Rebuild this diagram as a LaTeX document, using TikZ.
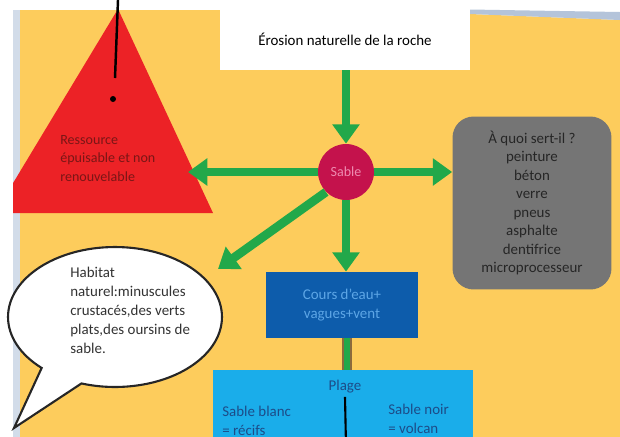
\documentclass[tikz,border=0pt]{standalone}
\usepackage{fontspec}
\setmainfont{Carlito}
\usetikzlibrary{arrows.meta,shapes.callouts}

\definecolor{fond}{HTML}{FDCC5C}
\definecolor{bord}{HTML}{B4C4DA}
\definecolor{rouge}{HTML}{EC2226}
\definecolor{rougetxt}{HTML}{7A1616}
\definecolor{vert}{HTML}{22A84A}
\definecolor{brun}{HTML}{8C6A3C}
\definecolor{gris}{HTML}{757575}
\definecolor{cramoisi}{HTML}{C4124C}
\definecolor{rose}{HTML}{EE8AB0}
\definecolor{bleufonce}{HTML}{0D5CAB}
\definecolor{bleutxt}{HTML}{5DA6E6}
\definecolor{bleuclair}{HTML}{1AADEA}
\definecolor{marine}{HTML}{1D4C88}

\begin{document}
\begin{tikzpicture}[x=0.02cm, y=-0.02cm,
    fleche/.style={draw=vert, line width=5pt, -{Triangle[length=11pt,width=15pt]}},
    lien/.style={draw=brun, line width=5.2pt, postaction={draw=vert, line width=3.4pt}},
    petit/.style={font=\fontsize{8}{10.5}\selectfont, inner sep=0pt},
    boite/.style={rectangle, inner sep=0pt}]
	%%%%% fond %%%%%
	\useasboundingbox (0,0) rectangle (620,437);
	\fill[white] (0,0) rectangle (620,437);
	\fill[bord!60] (13,10) rectangle (20,437);
	\fill[fond] (20,10) -- (470,10) -- (470,14) -- (620,20) -- (620,437) -- (20,437) -- cycle;
	\fill[bord] (440,9) -- (620,12) -- (620,20) -- (470,14) -- (440,13) -- cycle;
	
	%%%%% triangle %%%%%
	\begin{scope}
		\clip (13,0) rectangle (620,437);
		\fill[rouge] (-5,213) -- (118,9) -- (213,213) -- cycle;
	\end{scope}
	\draw[line width=1.4pt] (118,0) -- (115,78);
	\fill (113,99) circle (3);
	\node[petit, text=rougetxt, align=left, anchor=north west] (ressource) at (60,135)
		{Ressource\\épuisable et non\\renouvelable};
	\coordinate (triR) at (188,172);
	
	%%%%% noeuds %%%%%
	\node[boite, fill=white, minimum width=5cm, minimum height=1.22cm,
		font=\fontsize{8.5}{10}\selectfont] (erosion) at (345,39.5) {Érosion naturelle de la roche};
	\node[circle, fill=cramoisi, minimum size=1.12cm, inner sep=0pt, text=rose,
		font=\fontsize{8}{10}\selectfont] (sable) at (346,172) {Sable};
	\node[boite, fill=gris, rounded corners=12pt, minimum width=3.18cm, minimum height=3.46cm,
		align=center, text=black!85, font=\fontsize{8.5}{10.5}\selectfont] (usage) at (532,203)
		{À quoi sert-il ?\\peinture\\béton\\verre\\pneus\\asphalte\\dentifrice\\microprocesseur};
	\node[boite, fill=bleufonce, minimum width=3.04cm, minimum height=1.32cm, align=center,
		text=bleutxt, font=\fontsize{8.5}{10.5}\selectfont] (cours) at (342,305)
		{Cours d'eau+\\vagues+vent};
	\node[boite, fill=bleuclair, minimum width=5.2cm, minimum height=1.8cm, anchor=north] (plage) at (343,370) {};
	
	%%%%% bulle %%%%%
	\coordinate (bulletip) at (14,428);
	\node[ellipse callout, draw=black!85, line width=1.2pt, fill=white, minimum width=4.28cm,
		minimum height=2.8cm, callout absolute pointer={(bulletip)}, callout pointer arc=25] (bulle) at (115,317) {};
	\node[petit, text=black!80, align=left, anchor=north west, font=\fontsize{8.5}{10.8}\selectfont] (habitat) at (70,267)
		{Habitat\\naturel:minuscules\\crustacés,des verts\\plats,des oursins de\\sable.};
	\coordinate (habtip) at (218,269);
	
	%%%%% plage %%%%%
	\node[petit, text=marine, font=\fontsize{8.5}{10}\selectfont] (plagetxt) at (345,387) {Plage};
	\node[petit, text=marine, align=left, anchor=north west, font=\fontsize{8.5}{10.8}\selectfont] (blanc) at (222,406)
		{Sable blanc\\= récifs};
	\node[petit, text=marine, align=left, anchor=north west, font=\fontsize{8.5}{10.8}\selectfont] (noir) at (388,404)
		{Sable noir\\= volcan};
	\draw[line width=1.2pt] (plagetxt.south) ++(0,3) -- (346,445);
	
	%%%%% fleches %%%%%
	\draw[fleche] (erosion.south -| sable) -- (sable.north);
	\draw[fleche] (sable.west) -- (triR);
	\draw[fleche] (sable.east) -- (sable -| usage.west);
	\draw[fleche] (sable.225) -- (habtip);
	\draw[fleche] (sable.south) -- (sable |- cours.north);
	\draw[lien] (cours.south -| 347,0) -- (plage.north -| 347,0);
\end{tikzpicture}
\end{document}
